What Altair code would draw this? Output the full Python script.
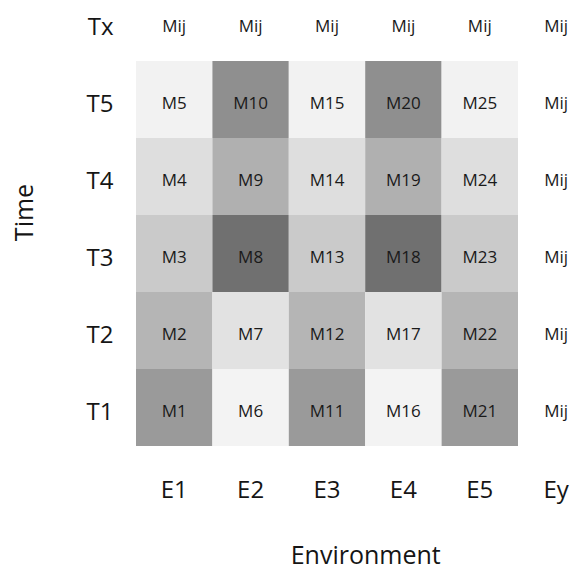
import altair as alt
import pandas as pd

environments = ["E1", "E2", "E3", "E4", "E5"]
times = ["T1", "T2", "T3", "T4", "T5"]
extra_env = "Ey"
extra_time = "Tx"
margin_label = "Mij"

# shading level of each cell (0 = lightest, 100 = darkest), per environment, T1..T5
levels = {
    "E1": [68, 47, 31, 16, 1],
    "E2": [0, 13, 100, 51, 76],
    "E3": [68, 47, 31, 16, 1],
    "E4": [0, 13, 100, 51, 76],
    "E5": [68, 47, 31, 16, 1],
}

x_order = environments + [extra_env]
y_order = [extra_time] + times[::-1]

cells = []
for ei, e in enumerate(environments):
    for ti, t in enumerate(times):
        cells.append({"env": e, "time": t, "label": f"M{ei * 5 + ti + 1}", "level": levels[e][ti]})
cells_df = pd.DataFrame(cells)

texts = [dict(r) for r in cells]
for t in times + [extra_time]:
    texts.append({"env": extra_env, "time": t, "label": margin_label})
for e in environments:
    texts.append({"env": e, "time": extra_time, "label": margin_label})
text_df = pd.DataFrame(texts)

FONT = "Open Sans"
INK = "#151515"

x_enc = alt.X(
    "env:N",
    sort=x_order,
    scale=alt.Scale(domain=x_order, range=[0, 458.4], paddingInner=0, paddingOuter=0),
    axis=alt.Axis(
        title="Environment",
        orient="bottom",
        domain=False,
        ticks=False,
        tickSize=0,
        grid=False,
        labelAngle=0,
        labelFont=FONT,
        labelFontSize=24,
        labelColor=INK,
        labelBaseline="alphabetic",
        labelPadding=51,
        titleFont=FONT,
        titleFontSize=25,
        titleFontWeight="normal",
        titleColor=INK,
        titleBaseline="alphabetic",
        titleY=117,
    ),
)
y_enc = alt.Y(
    "time:N",
    sort=y_order,
    scale=alt.Scale(domain=y_order, range=[-24, 438], paddingInner=0, paddingOuter=0),
    axis=alt.Axis(
        title="Time",
        orient="left",
        domain=False,
        ticks=False,
        tickSize=0,
        grid=False,
        labelFont=FONT,
        labelFontSize=24,
        labelColor=INK,
        labelBaseline="alphabetic",
        labelOffset=12,
        labelPadding=23,
        titleFont=FONT,
        titleFontSize=25,
        titleFontWeight="normal",
        titleColor=INK,
        titleAngle=270,
        titleBaseline="alphabetic",
        titleX=-104,
        titleY=204,
    ),
)

rects = alt.Chart(cells_df).mark_rect(strokeWidth=0).encode(
    x=x_enc,
    y=y_enc,
    color=alt.Color(
        "level:Q",
        scale=alt.Scale(domain=[0, 100], range=["#f3f3f3", "#707070"], interpolate="rgb"),
        legend=None,
    ),
)

labels = alt.Chart(text_df).mark_text(
    font=FONT, fontSize=17, color="#1a1a1a", baseline="alphabetic", dy=9
).encode(
    x=alt.X("env:N", sort=x_order),
    y=alt.Y("time:N", sort=y_order),
    text="label:N",
)

chart = (
    alt.layer(rects, labels)
    .properties(
        width=434,
        height=438,
        background="white",
        autosize=alt.AutoSizeParams(type="none"),
        padding={"left": 128, "top": 0, "right": 0, "bottom": 122},
    )
    .configure_view(strokeWidth=0, stroke="transparent")
)

chart.save("out.html", embed_options={"renderer": "svg", "actions": False})
